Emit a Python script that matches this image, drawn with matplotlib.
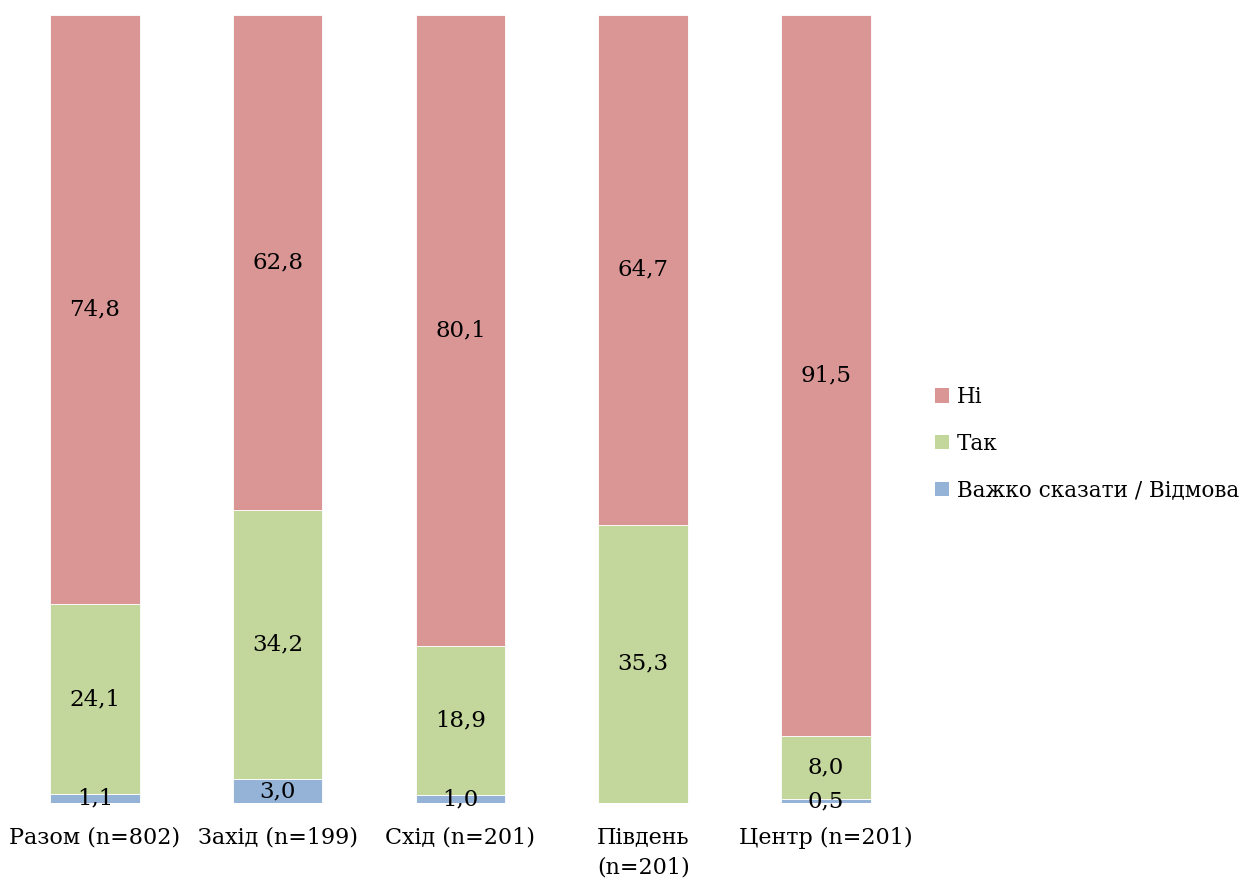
import numpy as np
import matplotlib.pyplot as plt
from matplotlib.patches import Patch

categories = ["Разом (n=802)", "Захід (n=199)", "Схід (n=201)", "Південь\n(n=201)", "Центр (n=201)"]
hard_to_say = [1.1, 3.0, 1.0, 0.0, 0.5]
yes = [24.1, 34.2, 18.9, 35.3, 8.0]
no = [74.8, 62.8, 80.1, 64.7, 91.5]

series = [
    ("Важко сказати / Відмова", hard_to_say, "#95B3D7"),
    ("Так", yes, "#C3D69B"),
    ("Ні", no, "#D99694"),
]

plt.rcParams["font.family"] = ["DejaVu Serif"]

fig = plt.figure(figsize=(12.42, 8.82), dpi=100)
ax = fig.add_axes([0.0028, 0.0896, 0.7359, 0.8934])

x = np.arange(len(categories))
bottom = np.zeros(len(categories))
for name, vals, color in series:
    vals = np.array(vals)
    ax.bar(x, vals, 0.49, bottom=bottom, color=color, edgecolor="white", linewidth=0.6)
    for xi, b, v in zip(x, bottom, vals):
        if v > 0:
            ax.text(xi, b + v / 2, f"{v:.1f}".replace(".", ","), ha="center", va="center",
                    fontsize=16.5, color="black")
    bottom += vals

ax.set_xlim(-0.5, len(categories) - 0.5)
ax.set_ylim(0, 100)
ax.set_xticks(x)
ax.set_xticklabels(categories, fontsize=16, linespacing=1.45)
ax.tick_params(axis="x", length=0, pad=17)
ax.set_yticks([])
for s in ax.spines.values():
    s.set_visible(False)

handles = [Patch(facecolor=c, label=n) for n, _, c in series[::-1]]
fig.legend(handles=handles, loc="center left", bbox_to_anchor=(0.753, 0.497), frameon=False,
           fontsize=15.5, handlelength=0.65, handleheight=0.65, handletextpad=0.35,
           labelspacing=1.15, borderpad=0, borderaxespad=0)

fig.savefig("out.png", dpi=100)
